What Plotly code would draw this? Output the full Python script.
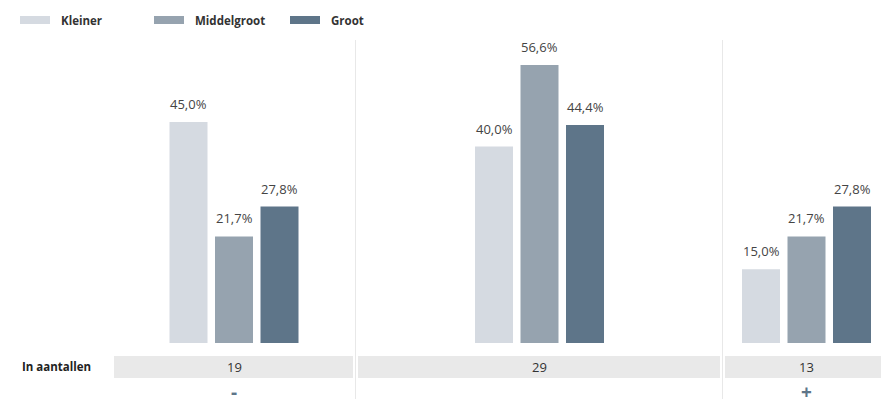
import plotly.graph_objects as go

# ---- data ----
groups = ["-", "", "+"]
counts = [19, 29, 13]
series_names = ["Kleiner", "Middelgroot", "Groot"]
kleiner = [45.0, 40.0, 15.0]
middelgroot = [21.7, 56.6, 21.7]
groot = [27.8, 44.4, 27.8]
row_label = "In aantallen"

# ---- layout constants (pixels) ----
W, H = 881, 399
TOP, BASE = 40, 343
PLOT_H = BASE - TOP
group_centers = [234, 539.5, 806.5]
band_edges = [(114, 353), (358, 720), (725, 881)]
separators = [355.5, 722.5]
bar_w = 38
bar_step = 45.5
colors = ["#d5dae1", "#96a3af", "#5e7589"]
FONT = "Open Sans"

def py(y):
    return (BASE - y) / PLOT_H

def px(x):
    return x / W

fig = go.Figure()
series = [kleiner, middelgroot, groot]
annotations = []
for i, (name, vals, col) in enumerate(zip(series_names, series, colors)):
    xs = [c + (i - 1) * bar_step for c in group_centers]
    fig.add_trace(go.Bar(x=xs, y=vals, width=bar_w, name=name,
                         marker=dict(color=col, line=dict(width=0)),
                         showlegend=False, hoverinfo="skip"))
    for x, v in zip(xs, vals):
        annotations.append(dict(x=x, y=v, xref="x", yref="y",
                                text=f"{v:.1f}".replace(".", ",") + "%",
                                showarrow=False, yanchor="bottom", yshift=7,
                                font=dict(family=FONT, size=13, color="#444")))

shapes = []
for s in separators:
    shapes.append(dict(type="line", xref="x", yref="paper", x0=s, x1=s,
                       y0=py(H), y1=py(TOP), line=dict(color="#e8e8e8", width=1)))
for (x0, x1), c, n, g in zip(band_edges, group_centers, counts, groups):
    shapes.append(dict(type="rect", xref="x", yref="paper", x0=x0, x1=x1,
                       y0=py(378), y1=py(356), fillcolor="#e9e9e9",
                       line=dict(width=0), layer="below"))
    annotations.append(dict(x=c, y=py(367), xref="x", yref="paper", text=str(n),
                            showarrow=False, yanchor="middle",
                            font=dict(family=FONT, size=13, color="#333")))
    if g:
        annotations.append(dict(x=c, y=py(392), xref="x", yref="paper", text=f"<b>{g}</b>",
                                showarrow=False, yanchor="middle",
                                font=dict(family=FONT, size=19, color="#5e7589")))

annotations.append(dict(x=px(20), y=py(366.5), xref="paper", yref="paper", text=f"<b>{row_label}</b>",
                        showarrow=False, xanchor="left", yanchor="middle",
                        font=dict(family=FONT, size=11.5, color="#222")))

# legend (manual)
leg_x = [20, 154, 290]
for lx, name, col in zip(leg_x, series_names, colors):
    shapes.append(dict(type="rect", xref="paper", yref="paper", x0=px(lx), x1=px(lx + 30),
                       y0=py(24), y1=py(16), fillcolor=col, line=dict(width=0)))
    annotations.append(dict(x=px(lx + 39), y=py(20.5), xref="paper", yref="paper",
                            text=f"<b>{name}</b>", showarrow=False, xanchor="left",
                            yanchor="middle",
                            font=dict(family=FONT, size=11.5, color="#333")))

fig.update_layout(
    width=W, height=H, margin=dict(l=0, r=0, t=TOP, b=H - BASE),
    paper_bgcolor="white", plot_bgcolor="white", barmode="overlay",
    xaxis=dict(range=[0, W], visible=False, fixedrange=True),
    yaxis=dict(range=[0, PLOT_H / 4.91], visible=False, fixedrange=True),
    shapes=shapes, annotations=annotations, showlegend=False,
)
fig.write_html("out.html", config={"displayModeBar": False})
